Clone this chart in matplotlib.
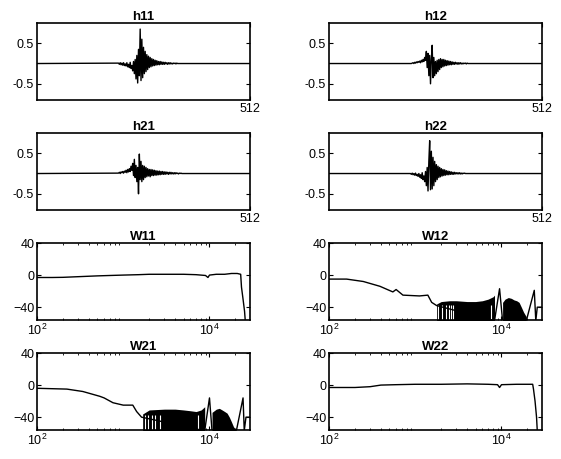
import numpy as np
import matplotlib
matplotlib.use('Agg')
import matplotlib.pyplot as plt

plt.rcParams['font.family'] = ['Liberation Sans', 'DejaVu Sans']
plt.rcParams['font.size'] = 9

# impulse responses: values at samples start, start+2, start+4, ... (zero elsewhere)
n_taps = 512
h_start = 196
h11 = [0.01,-0.02,0.02,-0.03,0.01,-0.04,0.02,-0.05,-0.01,-0.06,0.02,-0.08,-0.02,-0.1,0.03,-0.12,-0.05,
       -0.18,0.05,-0.25,0.1,-0.38,0.2,-0.48,0.35,-0.3,
       0.85,-0.42,0.6,-0.35,0.4,-0.25,0.3,
       -0.2,0.22,-0.15,0.18,-0.1,0.15,-0.08,0.12,-0.06,0.1,-0.05,0.08,-0.04,0.07,-0.03,
       0.05,-0.03,0.05,-0.02,0.04,-0.02,0.03,-0.02,0.03,-0.01,0.02,-0.02,0.02,-0.01,0.02,-0.01,0.01,-0.01,0.01,0.0,0.01,-0.01,0.01,0.0,0.0]
h12 = [0.0,0.0,0.01,0.02,0.0,0.03,0.01,0.04,0.02,0.05,0.03,0.06,0.02,0.08,0.04,0.1,0.05,0.15,
       0.08,0.3,-0.1,0.25,-0.3,0.2,-0.5,0.1,0.45,-0.35,0.15,-0.3,0.05,-0.25,0.08,-0.2,
       0.1,-0.15,0.12,-0.1,0.1,-0.08,0.1,-0.06,0.08,-0.05,0.07,-0.04,0.06,-0.03,0.05,-0.03,0.04,-0.02,0.03,
       -0.02,0.03,-0.01,0.02,-0.02,0.02,-0.01,0.02,-0.01,0.01,-0.01,0.01,0.0,0.01,-0.01,0.01,0.0,0.0,0.0,0.0]
h21 = [0.01,0.03,0.0,0.04,0.02,0.05,0.01,0.06,0.03,0.08,0.02,0.1,0.04,0.12,0.05,0.18,0.08,0.25,
       -0.05,0.35,-0.1,0.2,-0.2,0.15,-0.5,0.48,-0.15,0.3,-0.2,0.2,-0.15,0.18,-0.1,0.15,
       -0.08,0.12,-0.06,0.1,-0.08,0.1,-0.05,0.09,-0.05,0.08,-0.04,0.07,-0.04,0.06,-0.03,0.06,-0.03,0.05,-0.02,
       0.05,-0.02,0.04,-0.02,0.04,-0.01,0.03,-0.02,0.03,-0.01,0.03,-0.01,0.02,-0.01,0.02,-0.01,0.02,0.0,0.01,-0.01,0.01,0.0,0.01,0.0,0.0,0.0]
h22 = [0.0,-0.02,0.01,-0.03,0.0,-0.04,0.01,-0.05,-0.02,-0.07,0.0,-0.09,-0.03,-0.12,0.02,-0.15,-0.06,
       -0.2,0.05,-0.3,0.15,-0.43,0.3,0.81,-0.4,
       0.55,-0.38,0.4,-0.3,0.3,-0.2,0.22,-0.15,0.18,
       -0.1,0.15,-0.08,0.12,-0.06,0.1,-0.05,0.09,-0.04,0.07,-0.03,0.06,-0.03,0.05,
       -0.02,0.04,-0.02,0.03,-0.02,0.03,-0.01,0.02,-0.01,0.02,-0.01,0.02,-0.01,0.01,-0.01,0.01,0.0,0.01,0.0,0.0,0.0,0.0,0.0,0.0,0.0]

# frequency responses (Hz, dB)
w11_f = [100,150,200,300,500,700,1000,1500,2000,3000,5000,7000,9000,9600,10000,12000,15000,18000,21000,23000,23500,24500,25500,26000,29500]
w11_db = [-3,-3,-2.8,-2,-1,-0.5,0,0.5,1,1,1,0.5,-0.5,-3,0,1,1,2,2,1,-15,-30,-45,-57,-57]
w22_f = [100,200,300,400,600,1000,2000,4000,7000,9000,9500,10000,15000,20000,23000,23500,24500,25500,26000,29500]
w22_db = [-3,-3,-2,0,0.5,1,1,1.5,1,0.5,-3,0.5,1,1,1,-5,-20,-40,-57,-57]

w12_f = [100,160,250,390,550,600,720,1120,1400,1550,1770,8300,9500,10300,19400,24000,25000,26000,29500]
w12_db = [-5,-5,-8,-14,-21,-18,-25,-26,-25,-34,-38,-57,-17,-57,-57,-19,-57,-40,-40]
w12_band1_f = [1770,2000,2500,3000,4000,5000,6000,7000,8000,8300]
w12_band1_up = [-36,-33,-32,-32,-33,-33,-32,-30,-27,-25]
w12_band2_f = [10300,11000,12000,13000,14000,15000,16000,17000,18000,19400]
w12_band2_up = [-34,-30,-28,-29,-31,-32,-34,-40,-46,-52]
w12_gaps = [1850,2050,2300,2450,2600,2750,7500]

w21_f = [100,222,340,535,600,760,1000,1290,1430,1630,8800,10000,10700,20500,24500,25300,26500,29500]
w21_db = [-4,-5,-8,-14,-16,-22,-25,-25,-33,-40,-57,-16,-57,-57,-16,-57,-40,-40]
w21_band1_f = [1680,2000,3000,4000,5000,6000,7000,8000,8800]
w21_band1_up = [-36,-31,-30,-30,-31,-32,-33,-31,-27]
w21_band2_f = [10700,12000,13000,14000,15000,16000,17000,18000,19000,20500]
w21_band2_up = [-34,-30,-29,-31,-33,-35,-40,-46,-52,-56]
w21_gaps = [1770,1920,2140,2320,2640,7400]

floor_db = -57

fig = plt.figure(figsize=(5.61, 4.59), dpi=100)
W, H = 561.0, 459.0
cols = [37, 329]
col_w = 213
rows = [23, 133, 243, 353]
row_h = 77


def make_ax(r, c):
    return fig.add_axes([cols[c] / W, 1 - (rows[r] + row_h) / H, col_w / W, row_h / H])


def style(ax):
    ax.tick_params(direction='in', top=True, right=True, length=3, width=0.8, pad=2)
    ax.tick_params(which='minor', direction='in', top=True, right=True, length=1.5, width=0.6)
    for s in ax.spines.values():
        s.set_linewidth(1.2)


def plot_h(ax, vals, name):
    idx = [0] + [h_start + 2 * i for i in range(len(vals))] + [n_taps - 1]
    y = [0.0] + list(vals) + [0.0]
    ax.plot(idx, y, color='black', lw=1.0)
    ax.set_xlim(0, n_taps)
    ax.set_ylim(-0.9, 1.0)
    ax.set_yticks([-0.5, 0.5])
    ax.set_yticklabels(['-0.5', '0.5'])
    ax.set_xticks([n_taps])
    ax.set_xticklabels([str(n_taps)])
    ax.set_title(name, fontsize=9.5, fontweight='bold', pad=1)
    style(ax)


def plot_w(ax, f, db, name, bands=(), gaps=()):
    for bf, bu in bands:
        ax.fill_between(bf, floor_db, bu, color='black', lw=0)
    for g in gaps:
        ax.vlines(g, floor_db, -37, color='white', lw=0.8)
    ax.plot(f, db, color='black', lw=1.0)
    ax.set_xscale('log')
    ax.set_xlim(100, 29500)
    ax.set_ylim(-56, 40)
    ax.set_yticks([-40, 0, 40])
    ax.set_xticks([100, 10000])
    ax.set_title(name, fontsize=9.5, fontweight='bold', pad=1)
    style(ax)


plot_h(make_ax(0, 0), h11, 'h11')
plot_h(make_ax(0, 1), h12, 'h12')
plot_h(make_ax(1, 0), h21, 'h21')
plot_h(make_ax(1, 1), h22, 'h22')

plot_w(make_ax(2, 0), w11_f, w11_db, 'W11')
plot_w(make_ax(2, 1), w12_f, w12_db, 'W12',
       bands=[(w12_band1_f, w12_band1_up), (w12_band2_f, w12_band2_up)], gaps=w12_gaps)
plot_w(make_ax(3, 0), w21_f, w21_db, 'W21',
       bands=[(w21_band1_f, w21_band1_up), (w21_band2_f, w21_band2_up)], gaps=w21_gaps)
plot_w(make_ax(3, 1), w22_f, w22_db, 'W22')

fig.savefig('out.png', dpi=100)
